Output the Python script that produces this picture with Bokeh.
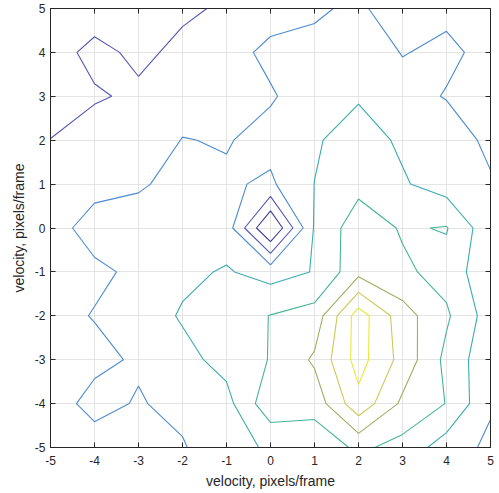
import numpy as np
from bokeh.plotting import figure
from bokeh.models import Range1d, FixedTicker, LinearAxis
from bokeh.embed import file_html
from bokeh.resources import INLINE

# grid of velocities (pixels/frame)
x_vel = [-5, -4, -3, -2, -1, 0, 1, 2, 3, 4, 5]
y_vel = [-5, -4, -3, -2, -1, 0, 1, 2, 3, 4, 5]

# surface values, one row per y velocity (x from -5 to 5)
z_y5 = [1.0, 1.19, 1.5, 1.74, 2.21, 2.63, 2.85, 3.2, 2.33, 2.74, 2.5]
z_y4 = [1.32, 2.45, 1.66, 2.37, 2.67, 3.21, 3.29, 3.66, 2.95, 3.24, 2.65]
z_y3 = [1.5, 1.82, 2.28, 2.6, 2.7, 2.91, 3.47, 3.91, 3.43, 2.93, 2.75]
z_y2 = [2.02, 2.8, 2.43, 3.03, 2.94, 3.3, 3.9, 4.41, 3.85, 3.7, 2.7]
z_y1 = [2.6, 2.77, 2.85, 3.4, 3.13, 2.85, 4.01, 4.69, 4.1, 3.55, 3.14]
z_y0 = [2.7, 3.3, 3.6, 3.5, 3.52, -0.18, 4.1, 5.6, 4.9, 5.06, 3.3]
z_ym1 = [2.7, 2.85, 3.15, 3.79, 4.09, 3.6, 4.05, 5.69, 5.18, 4.65, 3.21]
z_ym2 = [2.75, 3.04, 3.47, 4.1, 4.43, 5.03, 5.4, 8.5, 6.44, 5.15, 3.51]
z_ym3 = [2.6, 2.77, 3.12, 3.7, 4.33, 5.05, 6.15, 8.4, 6.65, 4.73, 3.27]
z_ym4 = [2.57, 3.3, 2.92, 3.3, 3.67, 5.7, 5.4, 7.69, 5.8, 4.97, 3.12]
z_ym5 = [2.3, 2.57, 2.7, 2.9, 3.81, 4.07, 4.3, 5.2, 4.66, 3.5, 2.79]

contour_levels = [1, 2, 3, 4, 5, 6, 7, 8]
level_colors = ["#3d3a94", "#5656b4", "#4d8bcf", "#38acae",
                "#45b498", "#9fae62", "#cbc955", "#e6e934"]

tick_values = [-5, -4, -3, -2, -1, 0, 1, 2, 3, 4, 5]
tick_labels = ["-5", "-4", "-3", "-2", "-1", "0", "1", "2", "3", "4", "5"]
axis_title = "velocity, pixels/frame"

z = np.array([z_ym5, z_ym4, z_ym3, z_ym2, z_ym1, z_y0,
              z_y1, z_y2, z_y3, z_y4, z_y5], dtype=float)

p = figure(width=499, height=491,
           x_range=Range1d(-5, 5), y_range=Range1d(-5, 5),
           output_backend="svg", toolbar_location=None,
           min_border_left=50, min_border_right=9,
           min_border_top=8, min_border_bottom=44)

p.background_fill_color = "white"
p.border_fill_color = "white"
p.outline_line_color = "#262626"
p.outline_line_width = 1

ax_color = "#262626"
for ax in (p.xaxis[0], p.yaxis[0]):
    ax.ticker = FixedTicker(ticks=tick_values)
    ax.major_label_overrides = dict(zip(tick_values, tick_labels))
    ax.major_tick_in = 5
    ax.major_tick_out = 0
    ax.minor_tick_line_color = None
    ax.axis_line_color = ax_color
    ax.major_tick_line_color = ax_color
    ax.major_label_text_font = "Liberation Sans"
    ax.major_label_text_font_size = "12px"
    ax.major_label_text_color = ax_color
    ax.axis_label = axis_title
    ax.axis_label_text_font = "Liberation Sans"
    ax.axis_label_text_font_style = "normal"
    ax.axis_label_text_font_size = "14px"
    ax.axis_label_text_color = ax_color
    ax.axis_label_standoff = 5

p.xaxis[0].major_label_standoff = 8
p.yaxis[0].major_label_standoff = 5

for loc in ("above", "right"):
    ex = LinearAxis(ticker=FixedTicker(ticks=tick_values),
                    major_tick_in=5, major_tick_out=0,
                    minor_tick_line_color=None,
                    axis_line_color=ax_color, major_tick_line_color=ax_color,
                    major_label_overrides={t: "" for t in tick_values},
                    major_label_text_font_size="0px",
                    major_label_standoff=0)
    p.add_layout(ex, loc)

for g in (p.xgrid[0], p.ygrid[0]):
    g.ticker = FixedTicker(ticks=tick_values)
    g.grid_line_color = "#e4e4e4"
    g.grid_line_width = 1

p.contour(x_vel, y_vel, z, contour_levels,
          line_color=level_colors, line_width=1.1, fill_color=None)

open("out.html", "w").write(file_html(p, INLINE))
